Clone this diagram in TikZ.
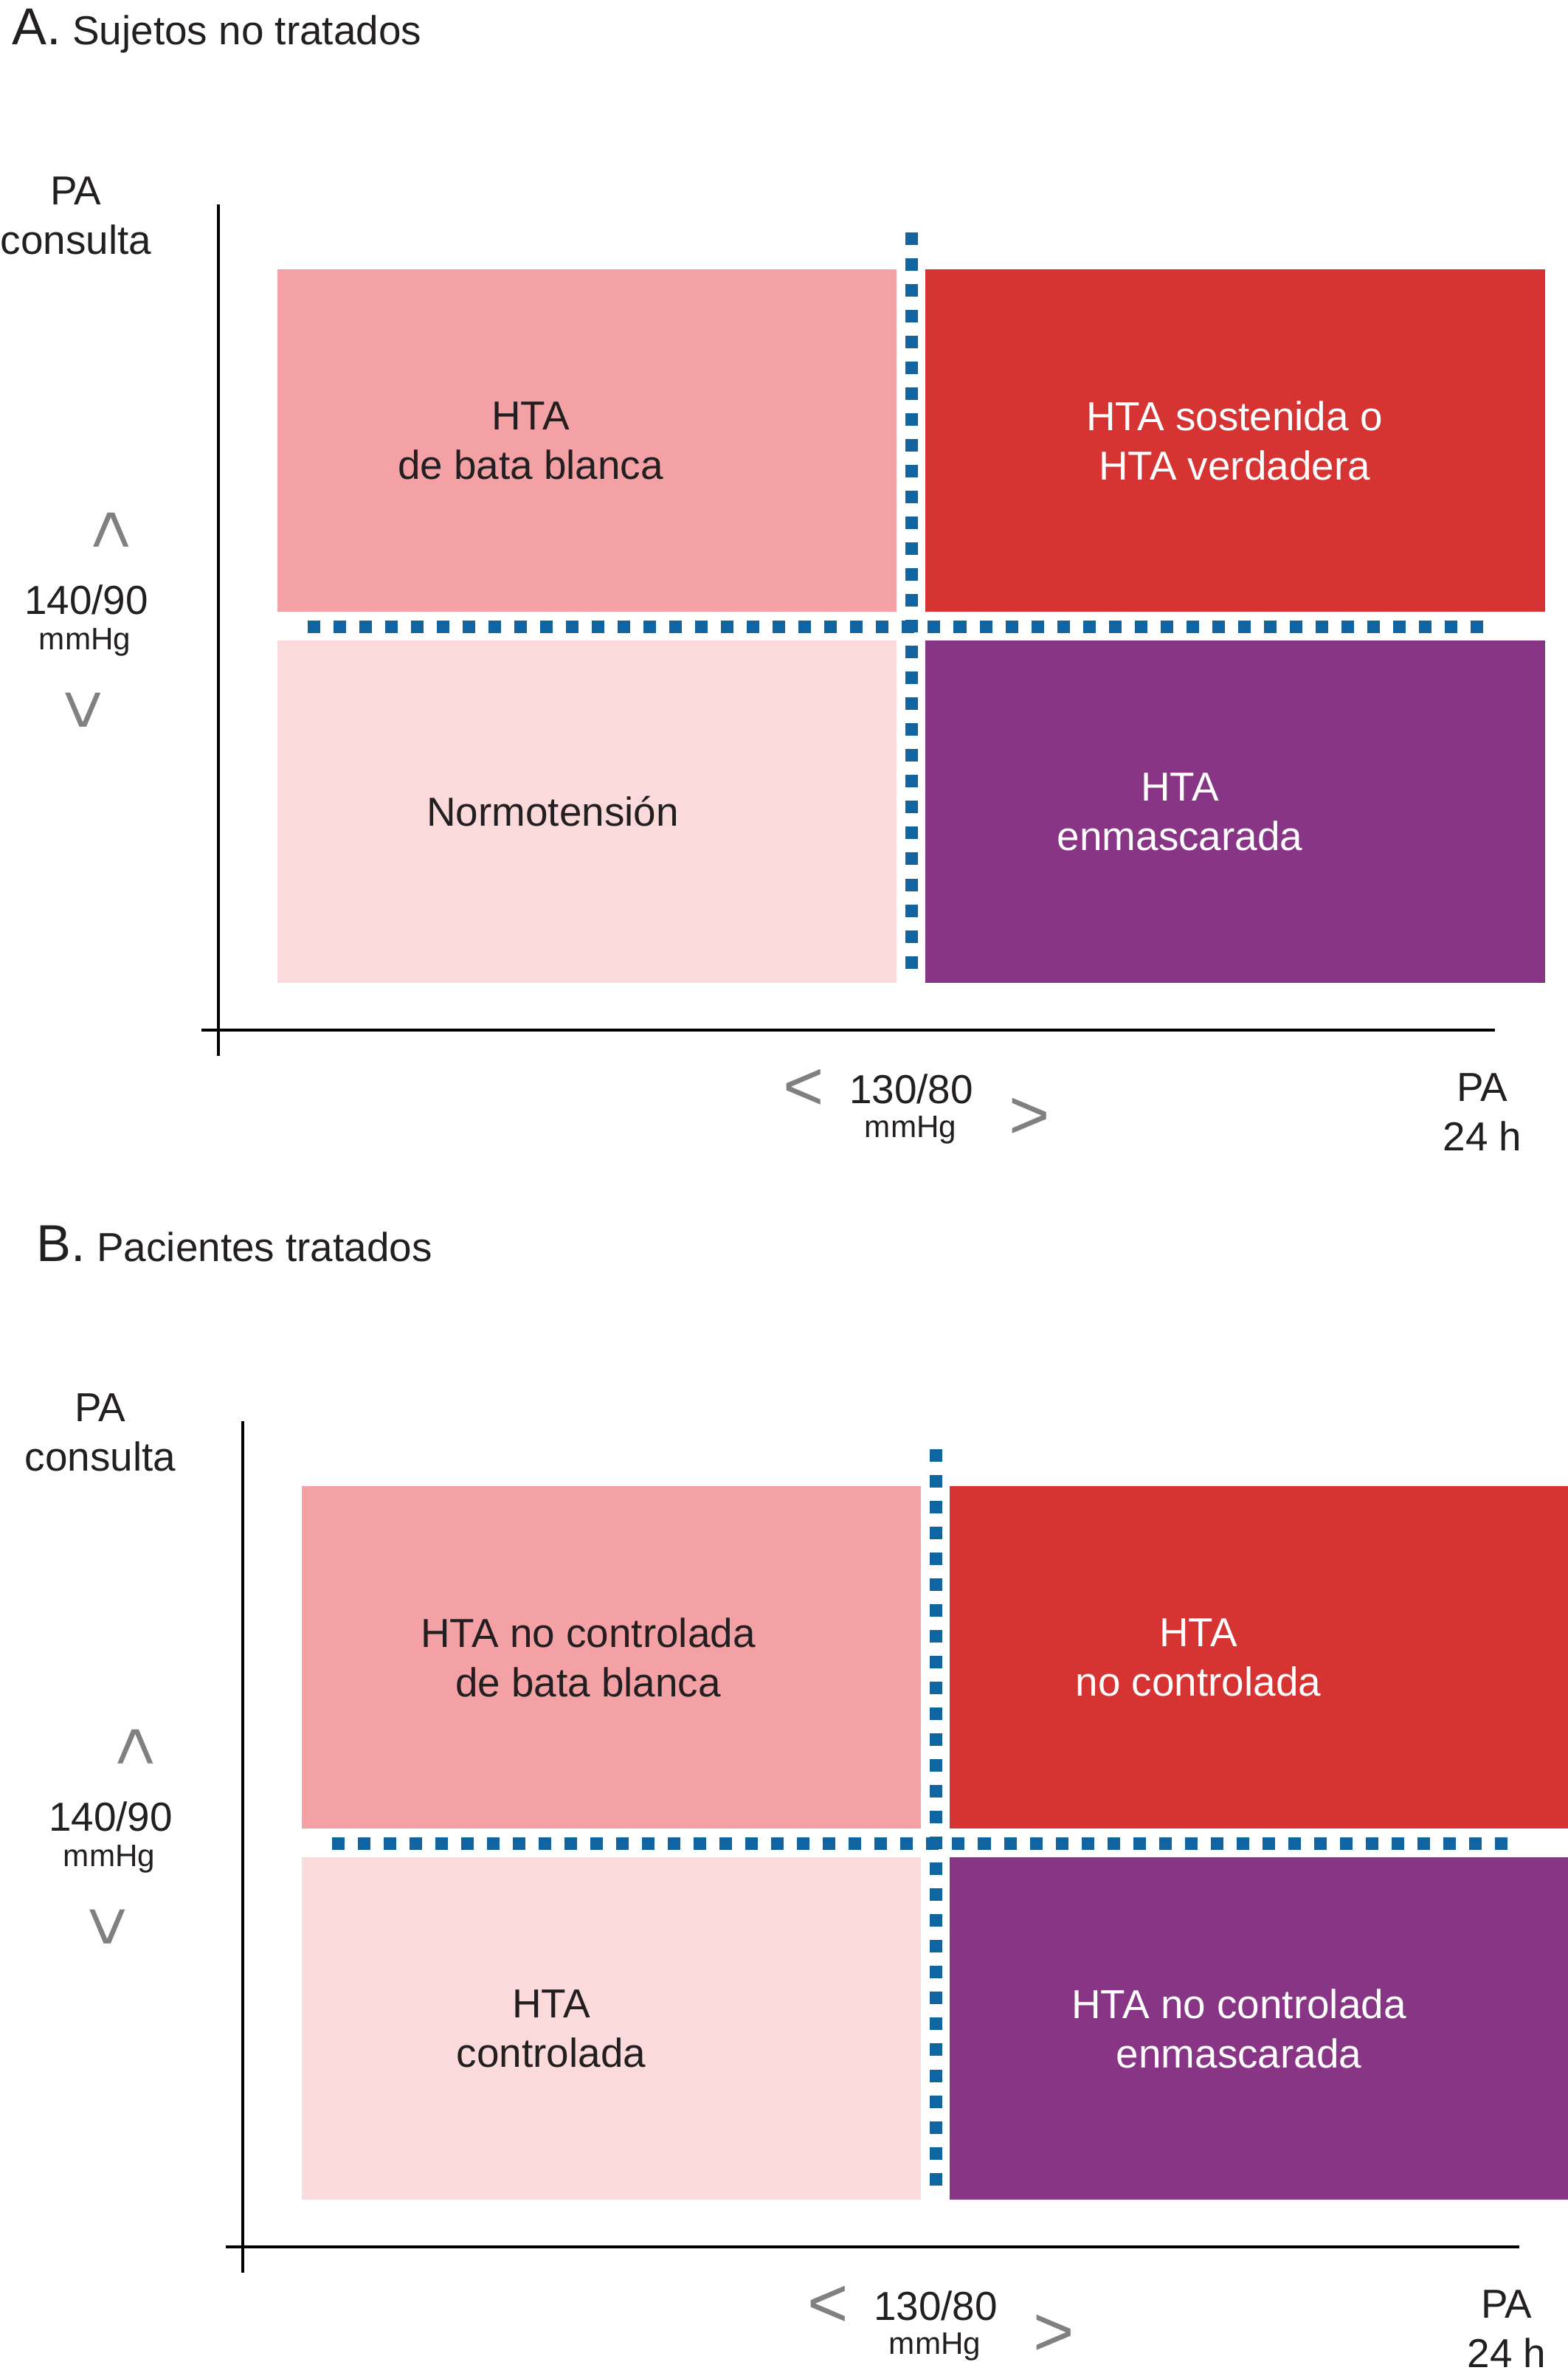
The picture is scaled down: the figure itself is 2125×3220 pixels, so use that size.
\documentclass[tikz,border=0pt]{standalone}
\usepackage{fontspec}
\setmainfont{Liberation Sans}
\usetikzlibrary{positioning}

\definecolor{batapink}{HTML}{F4A1A5}
\definecolor{sostred}{HTML}{D63333}
\definecolor{normpink}{HTML}{FADADA}
\definecolor{maskpurple}{HTML}{873584}
\definecolor{dotblue}{HTML}{1065A0}
\definecolor{chevgray}{HTML}{808080}
\definecolor{inkblack}{HTML}{231F20}

\begin{document}
\begin{tikzpicture}[x=0.01cm,y=-0.01cm]
  \tikzset{
    lbl/.style={font=\fontsize{15.6}{19}\selectfont, text=inkblack, align=center, inner sep=0pt},
    white lbl/.style={lbl, text=white},
    small lbl/.style={font=\fontsize{12}{14}\selectfont, text=inkblack, inner sep=0pt},
    chev/.style={font=\fontsize{27}{27}\selectfont, text=chevgray, inner sep=0pt},
    divider/.style={dotblue, line width=0.17cm, dash pattern=on 0.17cm off 0.18cm},
    axisline/.style={black, line width=1.2pt},
  }
  \useasboundingbox (0,0) rectangle (2125,3220);
  \newcommand\drawframe{%
    \fill[batapink] (376,365) rectangle (1215,829);
    \fill[sostred] (1254,365) rectangle (2094,829);
    \fill[normpink] (376,868) rectangle (1215,1332);
    \fill[maskpurple] (1254,868) rectangle (2094,1332);
    \draw[divider] (1235,315) -- (1235,1314);
    \draw[divider] (417,849) -- (2012,849);
    \draw[axisline] (296,277) -- (296,1431);
    \draw[axisline] (273,1396) -- (2026,1396);}
  \newcommand\drawscales[1]{%
    \node[lbl] (pa#1) at (103,292) {PA\\consulta};
    \node[chev, rotate=-90] (up#1) at (147,718) {<};
    \node[lbl] (lim#1) at (117,813) {140/90};
    \node[small lbl] (unit#1) at (115,870) {mmHg};
    \node[chev, rotate=-90] (down#1) at (109,962) {>};
    \node[chev] (less#1) at (1089,1477) {<};
    \node[lbl] (limx#1) at (1235,1476) {130/80};
    \node[small lbl] (unitx#1) at (1234,1531) {mmHg};
    \node[chev] (more#1) at (1395,1516) {>};
    \node[lbl] (pax#1) at (2009,1507) {PA\\24 h};}

% panel A
  \begin{scope}
    \drawframe
    \drawscales{a}
    \node[lbl, anchor=base west] (tita) at (16,60) {{\fontsize{20}{24}\selectfont A.} Sujetos no tratados};
    \node[lbl] (bataa) at (719,597) {HTA\\de bata blanca};
    \node[white lbl] (sosta) at (1673,597) {HTA sostenida o\\HTA verdadera};
    \node[lbl] (norma) at (749,1100) {Normotensión};
    \node[white lbl] (maska) at (1599,1100) {HTA\\enmascarada};
  \end{scope}

% panel B
  \begin{scope}[shift={(33,1649)}]
    \drawframe
    \drawscales{b}
    \node[lbl, anchor=base west] (titb) at (16,60) {{\fontsize{20}{24}\selectfont B.} Pacientes tratados};
    \node[lbl] (batab) at (764,597) {HTA no controlada\\de bata blanca};
    \node[white lbl] (sostb) at (1591,597) {HTA\\no controlada};
    \node[lbl] (normb) at (714,1100) {HTA\\controlada};
    \node[white lbl] (maskb) at (1646,1100) {HTA no controlada\\enmascarada};
  \end{scope}

\end{tikzpicture}
\end{document}
